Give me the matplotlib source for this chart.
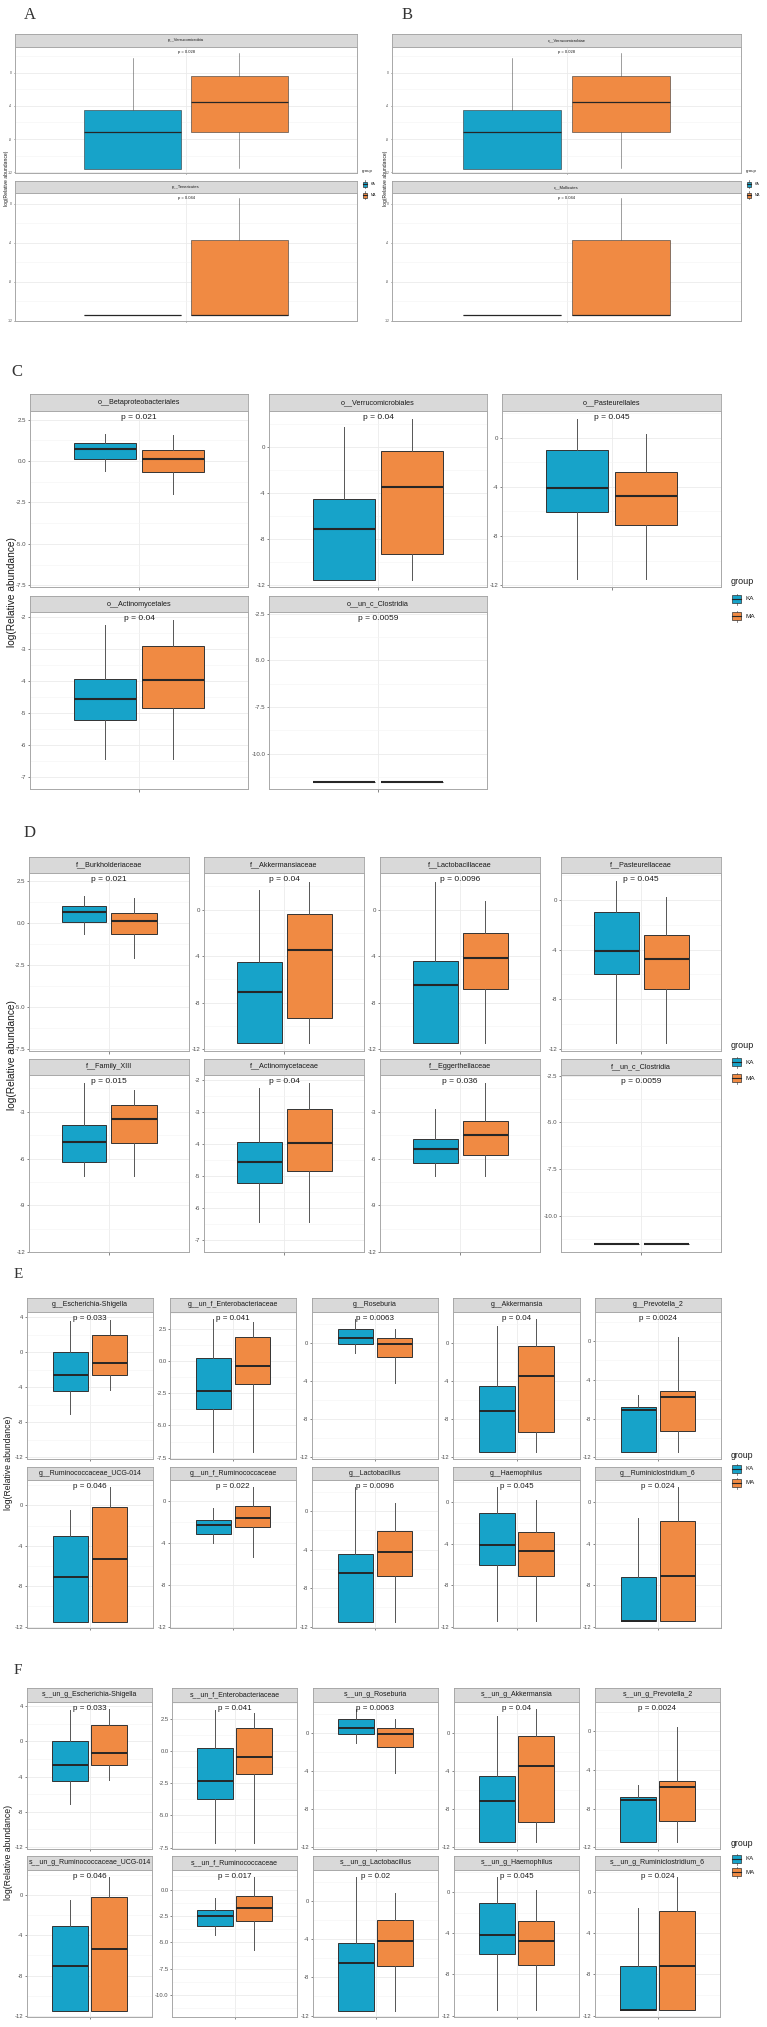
import matplotlib.pyplot as plt
import numpy as np
from matplotlib.patches import Rectangle

# values: [lower whisker, Q1, median, Q3, upper whisker] of log(relative abundance)
groups = ["KA", "MA"]

A_names = ["p__Verrucomicrobia", "p__Tenericutes"]
A_p = ["0.028", "0.044"]
A_ka = [[-11.6, -11.6, -7.16, -4.56, 1.72], [-11.4, -11.4, -11.4, -11.4, -11.4]]
A_ma = [[-11.48, -7.16, -3.48, -0.4, 2.4], [-11.4, -11.4, -11.4, -3.66, 0.6]]
A_ylim = [(-12.08, 3.08), (-12.03, 1.13)]
A_ticks = [[0, -4, -8, -12], [0, -4, -8, -12]]

B_names = ["c__Verrucomicrobiae", "c__Mollicutes"]
B_p = ["0.028", "0.044"]
B_ka = [[-11.6, -11.6, -7.16, -4.56, 1.72], [-11.4, -11.4, -11.4, -11.4, -11.4]]
B_ma = [[-11.48, -7.16, -3.48, -0.4, 2.4], [-11.4, -11.4, -11.4, -3.66, 0.6]]
B_ylim = [(-12.08, 3.08), (-12.03, 1.13)]
B_ticks = [[0, -4, -8, -12], [0, -4, -8, -12]]

C_names = ["o__Betaproteobacteriales", "o__Verrucomicrobiales", "o__Pasteurellales",
           "o__Actinomycetales", "o__un_c_Clostridia"]
C_p = ["0.021", "0.04", "0.045", "0.04", "0.0059"]
C_ka = [[-0.6, 0.1, 0.7, 1.1, 1.65], [-11.5, -11.5, -7.1, -4.5, 1.7],
        [-11.5, -6.05, -4.1, -0.97, 1.5], [-6.44, -5.2, -4.57, -3.94, -2.24],
        [-11.5, -11.5, -11.5, -11.5, -11.5]]
C_ma = [[-2.0, -0.65, 0.15, 0.65, 1.55], [-11.5, -9.3, -3.45, -0.37, 2.4],
        [-11.5, -7.1, -4.75, -2.8, 0.27], [-6.44, -4.85, -3.97, -2.89, -2.1],
        [-11.5, -11.5, -11.5, -11.5, -11.5]]
C_ylim = [(-7.6, 3.02), (-12.14, 3.1), (-12.14, 2.16), (-7.37, -1.84), (-11.9, -2.41)]
C_ticks = [[2.5, 0, -2.5, -5, -7.5], [0, -4, -8, -12], [0, -4, -8, -12],
           [-2, -3, -4, -5, -6, -7], [-2.5, -5, -7.5, -10]]

D_names = ["f__Burkholderiaceae", "f__Akkermansiaceae", "f__Lactobacillaceae", "f__Pasteurellaceae",
           "f__Family_XIII", "f__Actinomycetaceae", "f__Eggerthellaceae", "f__un_c_Clostridia"]
D_p = ["0.021", "0.04", "0.0096", "0.045", "0.015", "0.04", "0.036", "0.0059"]
D_ka = [[-0.62, 0.06, 0.7, 1.06, 1.6], [-11.5, -11.5, -7.1, -4.5, 1.7],
        [-11.5, -11.5, -6.45, -4.4, 2.4], [-11.5, -6.0, -4.14, -1.0, 1.48],
        [-7.11, -6.21, -4.93, -3.87, -1.17], [-6.44, -5.2, -4.57, -3.94, -2.24],
        [-7.13, -6.28, -5.38, -4.74, -2.83], [-11.5, -11.5, -11.5, -11.5, -11.5]]
D_ma = [[-2.08, -0.64, 0.16, 0.6, 1.5], [-11.5, -9.3, -3.45, -0.37, 2.4],
        [-11.5, -6.8, -4.2, -2.0, 0.77], [-11.5, -7.15, -4.76, -2.82, 0.22],
        [-7.11, -5.03, -3.47, -2.57, -1.6], [-6.44, -4.85, -3.97, -2.89, -2.1],
        [-7.13, -5.8, -4.52, -3.58, -1.17], [-11.5, -11.5, -11.5, -11.5, -11.5]]
D_ylim = [(-7.62, 3.0), (-12.15, 3.14), (-12.15, 3.14), (-12.15, 2.15),
          (-12.0, -0.64), (-7.37, -1.84), (-12.0, -0.64), (-11.94, -2.46)]
D_ticks = [[2.5, 0, -2.5, -5, -7.5], [0, -4, -8, -12], [0, -4, -8, -12], [0, -4, -8, -12],
           [-3, -6, -9, -12], [-2, -3, -4, -5, -6, -7], [-3, -6, -9, -12], [-2.5, -5, -7.5, -10]]

E_names = ["g__Escherichia-Shigella", "g__un_f_Enterobacteriaceae", "g__Roseburia", "g__Akkermansia",
           "g__Prevotella_2", "g__Ruminococcaceae_UCG-014", "g__un_f_Ruminococcaceae",
           "g__Lactobacillus", "g__Haemophilus", "g__Ruminiclostridium_6"]
E_p = ["0.033", "0.041", "0.0063", "0.04", "0.0024", "0.046", "0.022", "0.0096", "0.045", "0.024"]
E_ka = [[-7.1, -4.43, -2.65, 0.0, 3.6], [-7.07, -3.73, -2.31, 0.23, 3.24],
        [-1.08, -0.07, 0.56, 1.46, 2.5], [-11.48, -11.48, -7.13, -4.49, 1.74],
        [-11.47, -11.47, -7.16, -6.8, -5.6], [-11.5, -11.5, -7.1, -3.07, -0.46],
        [-4.0, -3.2, -2.31, -1.8, -0.73], [-11.5, -11.5, -6.47, -4.42, 2.54],
        [-11.48, -6.01, -4.15, -1.03, 1.51], [-11.48, -11.48, -11.48, -7.17, -1.54]]
E_ma = [[-4.3, -2.58, -1.2, 1.97, 3.7], [-7.07, -1.77, -0.39, 1.83, 2.98],
        [-4.2, -1.43, -0.14, 0.59, 1.53], [-11.48, -9.32, -3.44, -0.35, 2.47],
        [-11.47, -9.32, -5.75, -5.14, 0.45], [-11.5, -11.5, -5.32, -0.16, 1.84],
        [-5.3, -2.53, -1.68, -0.51, 1.33], [-11.5, -6.78, -4.24, -2.05, 0.8],
        [-11.48, -7.1, -4.72, -2.83, 0.22], [-11.48, -11.48, -7.14, -1.8, 1.51]]
E_ylim = [(-12.2, 4.57), (-7.6, 3.79), (-12.17, 3.27), (-12.17, 3.23), (-12.17, 3.0),
          (-12.13, 2.5), (-12.08, 1.96), (-12.15, 3.23), (-12.13, 2.15), (-12.13, 2.15)]
E_ticks = [[4, 0, -4, -8, -12], [2.5, 0, -2.5, -5, -7.5], [0, -4, -8, -12], [0, -4, -8, -12],
           [0, -4, -8, -12], [0, -4, -8, -12], [0, -4, -8, -12], [0, -4, -8, -12],
           [0, -4, -8, -12], [0, -4, -8, -12]]

F_names = ["s__un_g_Escherichia-Shigella", "s__un_f_Enterobacteriaceae", "s__un_g_Roseburia",
           "s__un_g_Akkermansia", "s__un_g_Prevotella_2", "s__un_g_Ruminococcaceae_UCG-014",
           "s__un_f_Ruminococcaceae", "s__un_g_Lactobacillus", "s__un_g_Haemophilus",
           "s__un_g_Ruminiclostridium_6"]
F_p = ["0.033", "0.041", "0.0063", "0.04", "0.0024", "0.046", "0.017", "0.02", "0.045", "0.024"]
F_ka = [[-7.08, -4.47, -2.73, 0.0, 3.6], [-7.1, -3.74, -2.35, 0.21, 3.2],
        [-1.08, -0.07, 0.56, 1.46, 2.5], [-11.48, -11.48, -7.13, -4.49, 1.74],
        [-11.47, -11.47, -7.16, -6.8, -5.6], [-11.5, -11.5, -7.1, -3.07, -0.46],
        [-4.35, -3.44, -2.49, -1.92, -0.82], [-11.5, -11.5, -6.47, -4.42, 2.54],
        [-11.48, -6.01, -4.15, -1.03, 1.51], [-11.48, -11.48, -11.48, -7.17, -1.54]]
F_ma = [[-4.36, -2.65, -1.29, 1.89, 3.67], [-7.1, -1.82, -0.46, 1.8, 2.95],
        [-4.2, -1.43, -0.14, 0.59, 1.53], [-11.48, -9.32, -3.44, -0.35, 2.47],
        [-11.47, -9.32, -5.75, -5.14, 0.45], [-11.5, -11.5, -5.32, -0.16, 1.84],
        [-5.77, -2.93, -1.77, -0.6, 1.23], [-11.5, -6.78, -4.24, -2.05, 0.8],
        [-11.48, -7.1, -4.72, -2.83, 0.22], [-11.48, -11.48, -7.14, -1.8, 1.51]]
F_ylim = [(-12.26, 4.5), (-7.6, 3.79), (-12.17, 3.27), (-12.17, 3.23), (-12.17, 3.0),
          (-12.13, 2.5), (-12.08, 1.86), (-12.15, 3.23), (-12.13, 2.15), (-12.13, 2.15)]
F_ticks = [[4, 0, -4, -8, -12], [2.5, 0, -2.5, -5, -7.5], [0, -4, -8, -12], [0, -4, -8, -12],
           [0, -4, -8, -12], [0, -4, -8, -12], [0, -2.5, -5, -7.5, -10], [0, -4, -8, -12],
           [0, -4, -8, -12], [0, -4, -8, -12]]

W, H = 767, 2027
KA_COL = "#17A3C9"
MA_COL = "#F08A43"
NARROW = ['Liberation Sans Narrow', 'Liberation Sans', 'DejaVu Sans']
plt.rcParams['font.family'] = NARROW

fig = plt.figure(figsize=(W / 100, H / 100), dpi=100)


def rect(x0, y0, x1, y1):
    return [x0 / W, 1 - y1 / H, (x1 - x0) / W, (y1 - y0) / H]


def fmt(t, ticks):
    if all(float(v).is_integer() for v in ticks):
        return "%d" % t
    return "%.1f" % t


def facet(x0, x1, s0, s1, y1, name, p, ka, ma, ylim, ticks, sz):
    sx = fig.add_axes(rect(x0, s0, x1, s1))
    sx.set_facecolor("#D9D9D9")
    sx.set_xticks([])
    sx.set_yticks([])
    for s in sx.spines.values():
        s.set_color("#A0A0A0")
        s.set_linewidth(0.6)
    sx.text(0.5, 0.5, name, ha='center', va='center', fontsize=sz['strip'],
            color='#1A1A1A', transform=sx.transAxes)

    ax = fig.add_axes(rect(x0, s1, x1, y1))
    stats = [dict(whislo=s[0], q1=s[1], med=s[2], q3=s[3], whishi=s[4], fliers=[]) for s in (ka, ma)]
    bp = ax.bxp(stats, positions=[0.8125, 1.1875], widths=0.3375, patch_artist=True,
                showfliers=False, showcaps=False,
                boxprops=dict(edgecolor='#333333', linewidth=sz['lw']),
                medianprops=dict(color='#262626', linewidth=sz['med']),
                whiskerprops=dict(color='#555555', linewidth=sz['lw']))
    for patch, c in zip(bp['boxes'], [KA_COL, MA_COL]):
        patch.set_facecolor(c)
    ax.set_xlim(0.4, 1.6)
    ax.set_ylim(*ylim)
    ax.set_xticks([1])
    ax.set_xticklabels([''])
    ax.set_yticks(ticks)
    ax.set_yticklabels([fmt(t, ticks) for t in ticks])
    step = abs(ticks[0] - ticks[1])
    minors = np.arange(min(ticks) - step * 2.5, max(ticks) + step * 2.5, step)
    minors = [m for m in minors if ylim[0] < m < ylim[1]]
    ax.set_yticks(minors, minor=True)
    ax.tick_params(axis='both', which='major', length=sz['tl'], width=0.5, color='#555555',
                   labelsize=sz['tick'], labelcolor='#4D4D4D', pad=1)
    ax.tick_params(axis='y', which='minor', length=0)
    ax.grid(which='major', color='#EBEBEB', linewidth=0.6)
    ax.grid(which='minor', axis='y', color='#F4F4F4', linewidth=0.4)
    ax.set_axisbelow(True)
    for s in ax.spines.values():
        s.set_color("#A8A8A8")
        s.set_linewidth(0.7)
    ax.annotate("p = " + p, xy=(1, 1), xycoords=('data', 'axes fraction'), xytext=(0, -2),
                textcoords='offset points', ha='center', va='top', fontsize=sz['p'], color='#1A1A1A')


def panel(names, pv, ka, ma, ylims, ticks, cols, rows, sz):
    n = len(cols)
    for i in range(len(names)):
        r, c = divmod(i, n)
        x0, x1 = cols[c]
        s0, s1, y1 = rows[r]
        facet(x0, x1, s0, s1, y1, names[i], pv[i], ka[i], ma[i], ylims[i], ticks[i], sz)


small = dict(strip=3.0, p=3.0, tick=2.4, lw=0.4, med=0.9, tl=1.0)
big = dict(strip=5.2, p=6.0, tick=4.4, lw=0.7, med=1.5, tl=1.8)
mid = dict(strip=5.0, p=5.8, tick=4.2, lw=0.7, med=1.4, tl=1.6)

panel(A_names, A_p, A_ka, A_ma, A_ylim, A_ticks, [(15, 357)], [(34, 47, 173), (181, 193, 321)], small)
panel(B_names, B_p, B_ka, B_ma, B_ylim, B_ticks, [(392, 741)], [(34, 47, 173), (181, 193, 321)], small)
panel(C_names, C_p, C_ka, C_ma, C_ylim, C_ticks, [(30, 248), (269, 487), (502, 721)],
      [(394, 411, 587), (596, 612, 789)], big)
panel(D_names, D_p, D_ka, D_ma, D_ylim, D_ticks, [(29, 189), (204, 364), (380, 540), (561, 721)],
      [(857, 873, 1051), (1059, 1075, 1252)], big)
panel(E_names, E_p, E_ka, E_ma, E_ylim, E_ticks,
      [(27, 153), (170, 296), (312, 438), (453, 580), (595, 721)],
      [(1298, 1312, 1459), (1467, 1480, 1628)], mid)
panel(F_names, F_p, F_ka, F_ma, F_ylim, F_ticks,
      [(27, 152), (172, 297), (313, 438), (454, 579), (595, 720)],
      [(1688, 1702, 1849), (1856, 1870, 2017)], mid)

# overlay in pixel coordinates for labels and legends
ov = fig.add_axes([0, 0, 1, 1])
ov.set_xlim(0, W)
ov.set_ylim(H, 0)
ov.axis('off')


def legend(x, yt, yk, ym, kw, kh, fs_t, fs_l):
    ov.text(x, yt, "group", fontsize=fs_t, ha='left', va='center', color='#1A1A1A')
    for y, col, lab in [(yk, KA_COL, groups[0]), (ym, MA_COL, groups[1])]:
        cx = x + 1 + kw / 2
        ov.plot([cx, cx], [y - kh / 2 - 1.5, y + kh / 2 + 1.5], color='#555555', lw=0.5, zorder=1)
        ov.add_patch(Rectangle((x + 1, y - kh / 2), kw, kh, facecolor=col, edgecolor='#333333',
                               lw=0.5, zorder=1.5))
        ov.plot([x + 1, x + 1 + kw], [y, y], color='#262626', lw=0.8, zorder=2)
        ov.text(x + kw + 5, y, lab, fontsize=fs_l, ha='left', va='center', color='#1A1A1A')


legend(362, 171, 184, 195, 4, 5, 3.2, 2.6)
legend(746, 171, 184, 195, 4, 5, 3.2, 2.6)
legend(731, 582, 599, 616, 9, 8, 6.5, 4.6)
legend(731, 1045, 1062, 1078, 9, 8, 6.5, 4.6)
legend(731, 1455, 1469, 1483, 9, 8, 6.3, 4.4)
legend(731, 1844, 1859, 1872, 9, 8, 6.3, 4.4)

SERIF = ['Liberation Serif', 'DejaVu Serif']
for lab, x, y, fs in [("A", 30, 15, 12), ("B", 407, 15, 12), ("C", 17, 372, 12),
                      ("D", 30, 833, 12), ("E", 18, 1275, 11), ("F", 18, 1670, 11)]:
    ov.text(x, y, lab, fontsize=fs, family=SERIF, ha='center', va='center', color='#333333')

REG = ['Liberation Sans', 'DejaVu Sans']
for x, y, fs in [(7, 178, 3.6), (385, 178, 3.6), (12, 592, 7.3), (12, 1055, 7.3),
                 (9, 1463, 6.2), (9, 1852, 6.3)]:
    ov.text(x, y, "log(Relative abundance)", fontsize=fs, family=REG, rotation=90,
            ha='center', va='center', color='#1A1A1A')

fig.savefig('out.png', dpi=100)
